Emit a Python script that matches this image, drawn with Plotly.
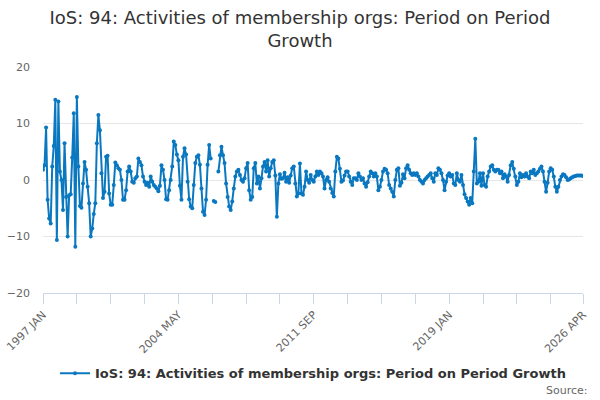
import plotly.graph_objects as go

MONTHS = ["JAN", "FEB", "MAR", "APR", "MAY", "JUN", "JUL", "AUG", "SEP", "OCT", "NOV", "DEC"]
start_year = 1997
end_year = 2026
end_month = 4
categories = [f"{y} {m}" for y in range(start_year, end_year + 1) for k, m in enumerate(MONTHS)
              if not (y == end_year and k + 1 > end_month)]

tick_labels = ["1997 JAN", "2004 MAY", "2011 SEP", "2019 JAN", "2026 APR"]
tick_step = 22  # months between small tick marks

values = [
    # 1997
    1.8, 2.6, 9.3, -3.5, -6.8, -7.7, 2.4, 6.0, 14.2, -10.6, 13.9, 1.5,
    # 1998
    0.0, -5.3, 6.5, -3.0, -10.0, -2.7, -2.5, 4.0, 11.8, -11.8, 14.7, 2.4,
    # 1999
    -4.6, -4.9, -0.6, 3.2, 1.8, -1.2, -4.1, -10.0, -8.6, -6.0, -4.1, 6.5,
    # 2000
    11.5, 8.8, 1.2, -3.2, -2.1, 4.1, 4.3, -2.4, -4.4, -4.4, -0.9, 3.1,
    # 2001
    2.6, 2.1, 1.8, 0.0, -3.5, -3.5, -1.8, 1.5, 2.4, 1.5, -0.3, -0.5,
    # 2002
    0.3, 0.6, 3.8, 3.2, 2.6, 0.6, -0.3, -0.9, -0.5, -1.2, 0.6, -0.3,
    # 2003
    -0.9, -1.2, -1.5, -2.0, -1.0, 2.6, 1.8, 0.0, -3.4, -3.5, -1.8, 0.0,
    # 2004
    2.4, 6.8, 6.2, 4.5, 3.5, -1.0, -3.5, 4.1, 5.6, 4.5, -0.3, -3.4,
    # 2005
    -4.7, -5.0, -0.9, 3.0, 4.1, 4.4, 2.7, -1.5, -5.6, -6.2, -3.5, 2.7,
    # 2006
    6.2, 3.8, None, -3.7, -3.9, None, 1.5, 4.4, 5.9, 4.4, 3.0, -0.6,
    # 2007
    -3.0, -4.7, -5.3, -3.8, -1.5, 0.6, 1.5, 1.8, 0.9, 0.0, -0.3, 0.3,
    # 2008
    2.1, 3.0, -1.8, -3.5, -3.0, 2.1, 3.0, -0.6, 0.6, -1.5, 0.3, 2.4,
    # 2009
    3.2, 1.5, 3.5, 0.6, 2.1, 3.2, 3.5, 0.8, -6.5, -0.6, 1.0, 0.2,
    # 2010
    0.3, 1.3, -0.3, 0.5, -0.5, 0.8, 2.1, 2.4, -0.6, -2.9, -2.4, 2.9,
    # 2011
    -2.4, -2.6, -1.2, 1.5, 0.0, -0.5, 0.9, 0.0, -0.3, 0.6, 1.5, 0.9,
    # 2012
    1.5, 1.2, 0.6, -1.5, 0.0, 0.5, -0.3, -1.5, -2.3, -2.9, 1.5, 4.1,
    # 2013
    3.8, 2.0, -0.3, -0.1, 0.8, 1.5, 1.5, 0.6, -0.3, -0.9, 0.3, 0.3,
    # 2014
    0.0, 1.2, 0.6, 0.0, 0.3, -0.6, -1.2, -0.4, 0.6, 1.5, 1.2, 0.6,
    # 2015
    1.2, 0.6, -1.8, -1.2, 0.0, 1.5, 2.0, 1.8, 1.2, -0.9, -1.5, -2.1,
    # 2016
    -2.9, 0.0, 1.8, 2.1, -1.0, -0.5, 1.0, 0.3, 2.1, 2.6, 1.8, 1.2,
    # 2017
    0.9, 1.2, 0.9, 1.2, 0.6, 0.0, -0.3, -0.6, 0.0, 0.3, 0.6, 0.9,
    # 2018
    1.2, 0.3, -0.3, 1.2, 0.9, 2.1, 1.8, 1.2, 0.0, -1.8, -0.3, 0.8,
    # 2019
    1.2, 0.6, 0.9, -0.6, -0.9, 1.2, 0.0, -0.3, 0.9, -0.9, -2.5, -3.2,
    # 2020
    -3.8, -4.4, -3.2, -4.1, 1.5, 7.3, -0.6, -0.3, 1.2, -1.0, 1.2, -0.9,
    # 2021
    -1.2, 0.6, 1.5, 2.4, 2.6, 1.8, 1.5, 1.8, 1.8, 1.2, 1.5, 0.3,
    # 2022
    1.0, 0.6, -0.3, 0.9, 2.6, 3.2, 2.0, 0.6, -0.9, -0.3, 1.2, 0.5,
    # 2023
    0.9, 0.6, 1.2, 0.6, 0.3, 1.5, 1.2, 1.8, 0.9, 1.2, 1.5, 2.0,
    # 2024
    2.4, 1.5, -0.3, -2.1, -0.5, 1.5, 2.1, 1.8, 0.6, -1.2, -2.1, -1.2,
    # 2025
    0.0, 0.6, 1.0, 0.9, 0.5, 0.0, 0.1, 0.3, 0.5, 0.6, 0.7, 0.8,
    # 2026
    0.8, 0.8, 0.8, 0.7,
]

series_name = "IoS: 94: Activities of membership orgs: Period on Period Growth"
title_text = "IoS: 94: Activities of membership orgs: Period on Period<br>Growth"
y_ticks = [-20, -10, 0, 10, 20]

FONT = "DejaVu Sans, Verdana, sans-serif"
BLUE = "#0a78c0"

tick_vals = categories[::tick_step]
if tick_labels[-1] not in tick_vals:
    tick_vals = tick_vals + [tick_labels[-1]]
tick_text = [c if c in tick_labels else "" for c in tick_vals]

fig = go.Figure()
fig.add_trace(go.Scatter(
    x=categories, y=values, name=series_name, mode="lines+markers",
    line=dict(color=BLUE, width=2),
    marker=dict(color=BLUE, size=4),
    connectgaps=False,
))

fig.update_layout(
    width=600, height=400,
    margin=dict(l=43, r=17, t=67, b=107),
    paper_bgcolor="white", plot_bgcolor="white",
    font=dict(family=FONT, color="#333333"),
    title=dict(text=title_text, x=0.5, xanchor="center", y=0.94, yanchor="middle",
               yref="container", font=dict(size=18, color="#333333", family=FONT)),
    showlegend=True,
    legend=dict(orientation="h", x=0.5, xanchor="center", y=-0.355, yanchor="middle",
                font=dict(size=13, color="#333333", family=FONT, weight="bold"),
                itemwidth=30),
    xaxis=dict(
        type="category", range=[0, len(categories) - 1], automargin=False,
        tickmode="array", tickvals=tick_vals, ticktext=tick_text,
        tickangle=-45, tickfont=dict(size=11, color="#666666"),
        showgrid=False, showline=True, linecolor="#ccd6eb", linewidth=1,
        ticks="outside", ticklen=10, tickcolor="#ccd6eb",
    ),
    yaxis=dict(
        range=[-20, 20], tickmode="array", tickvals=y_ticks, automargin=False,
        tickfont=dict(size=11, color="#666666"), ticklabelstandoff=12,
        showgrid=True, gridcolor="#e6e6e6", gridwidth=1,
        zeroline=False, showline=False, ticks="",
    ),
    annotations=[dict(text="Source:", xref="paper", yref="paper", x=1.013, y=-0.43,
                      xanchor="right", yanchor="middle", showarrow=False,
                      font=dict(size=11, color="#666666", family=FONT))],
)

fig.write_html("out.html", config={"displayModeBar": False},
               post_script="document.body.style.margin='0';")
